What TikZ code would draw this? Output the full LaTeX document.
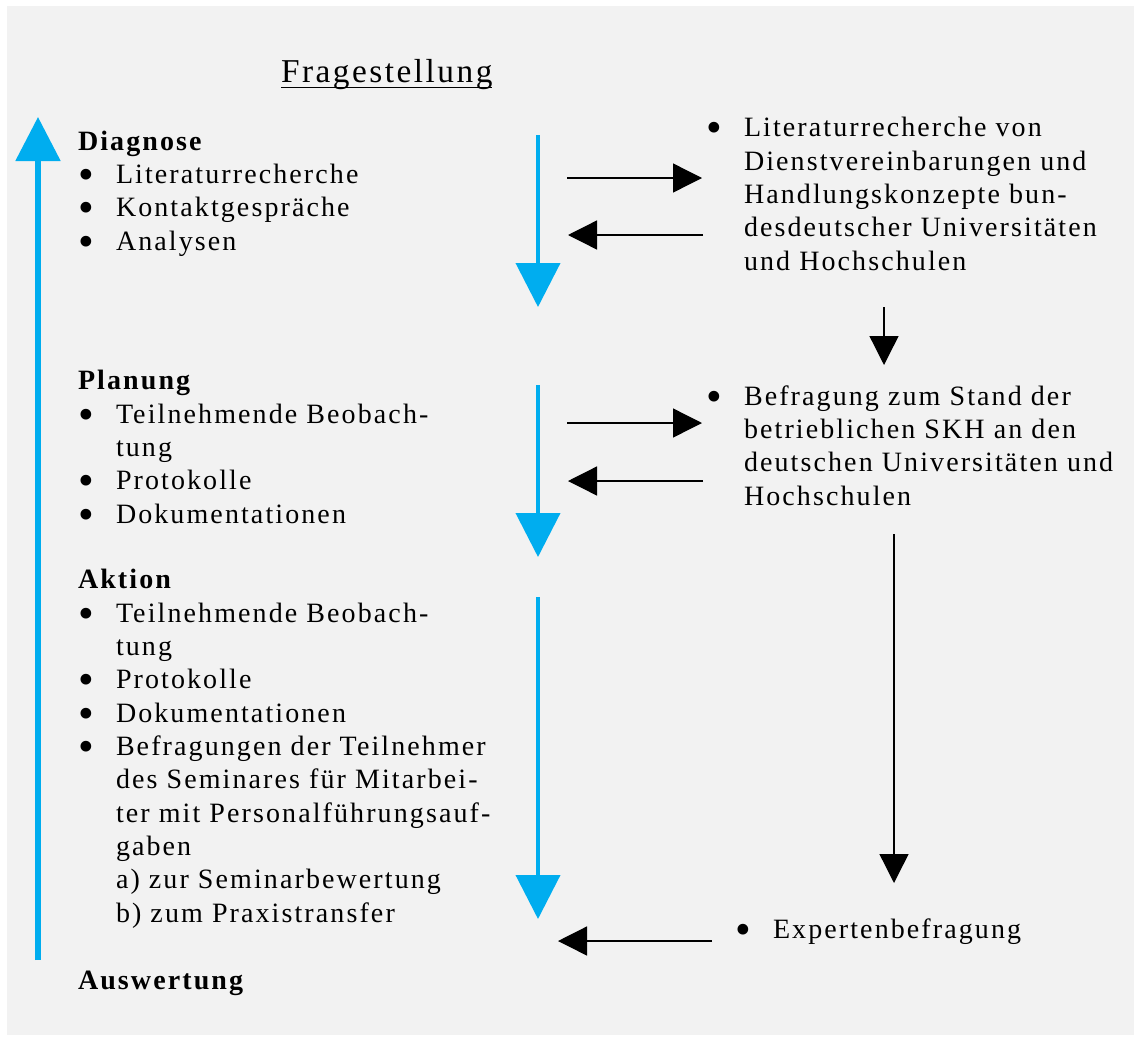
\documentclass[tikz,border=0pt]{standalone}
\usepackage{fontspec}
\setmainfont[LetterSpace=7.5]{Liberation Serif}
\usetikzlibrary{arrows.meta}

\newcommand{\bulletbox}{\makebox[28.5pt][l]{\raisebox{-4.5pt}{\scalebox{1.6}{\textbullet}}}}
\newcommand{\hangbox}{\hspace*{28.5pt}}

\tikzset{
  listtext/.style={anchor=base west, inner sep=0pt, outer sep=0pt, align=left,
    font=\fontsize{21}{25}\selectfont},
  cyanarrow/.style={draw=arrowCyan, line width=3pt, -{Triangle[length=33pt,width=33pt]}},
  blackarrow/.style={draw=black, line width=1pt, -{Triangle[length=21.75pt,width=21.75pt]}}
}

\begin{document}
\begin{tikzpicture}[x=0.75pt,y=-0.75pt]
\definecolor{panelColor}{RGB}{242,242,242}
\definecolor{arrowCyan}{RGB}{0,173,239}
\path[use as bounding box,fill=white] (0,0) rectangle (1134,1039);
\path[fill=panelColor] (7,6) rectangle (1134,1035);

% title
\node[anchor=base west,inner sep=0pt,outer sep=0pt,font=\fontsize{25}{29}\selectfont] (title) at (281,82) {Fragestellung};
\draw[line width=1pt] ([yshift=-4pt]title.base west) -- ([yshift=-4pt]title.base east);

% left column (placed at the baseline of the last line)
\node[listtext] (diagnose) at (78,250) {\textbf{Diagnose}\\
\bulletbox Literaturrecherche\\
\bulletbox Kontaktgespräche\\
\bulletbox Analysen};

\node[listtext] (planung) at (78,523) {\textbf{Planung}\\
\bulletbox Teilnehmende Beobach-\\
\hangbox tung\\
\bulletbox Protokolle\\
\bulletbox Dokumentationen};

\node[listtext] (aktion) at (78,922) {\textbf{Aktion}\\
\bulletbox Teilnehmende Beobach-\\
\hangbox tung\\
\bulletbox Protokolle\\
\bulletbox Dokumentationen\\
\bulletbox Befragungen der Teilnehmer\\
\hangbox des Seminares für Mitarbei-\\
\hangbox ter mit Personalführungsauf-\\
\hangbox gaben\\
\hangbox a) zur Seminarbewertung\\
\hangbox b) zum Praxistransfer};

\node[listtext] (auswertung) at (78,989) {\textbf{Auswertung}};

% right column
\node[listtext] (literatur) at (706,270) {\bulletbox Literaturrecherche von\\
\hangbox Dienstvereinbarungen und\\
\hangbox Handlungskonzepte bun-\\
\hangbox desdeutscher Universitäten\\
\hangbox und Hochschulen};

\node[listtext] (befragung) at (706,505) {\bulletbox Befragung zum Stand der\\
\hangbox betrieblichen SKH an den\\
\hangbox deutschen Universitäten und\\
\hangbox Hochschulen};

\node[listtext] (experten) at (735,938) {\bulletbox Expertenbefragung};

% arrow ends
\coordinate (cycleS) at (38,960);
\coordinate (cycleE) at (38,117);
\coordinate (diagS) at (538,135);
\coordinate (diagE) at (538,307);
\coordinate (planS) at (538,385);
\coordinate (planE) at (538,557);
\coordinate (aktS) at (538,597);
\coordinate (aktE) at (538,919);
\coordinate (diagOut) at (567,178);
\coordinate (diagIn) at (568,235);
\coordinate (litIn) at (702,178);
\coordinate (litOut) at (703,235);
\coordinate (litDownS) at (884,307);
\coordinate (litDownE) at (884,365);
\coordinate (planOut) at (567,423);
\coordinate (planIn) at (568,481);
\coordinate (befIn) at (702,423);
\coordinate (befOut) at (703,481);
\coordinate (befDownS) at (894,534);
\coordinate (befDownE) at (894,883);
\coordinate (expOut) at (712,941);
\coordinate (aktIn) at (558,941);

% cyan arrows
\draw[cyanarrow,line width=4pt] (cycleS) -- (cycleE);
\draw[cyanarrow] (diagS) -- (diagE);
\draw[cyanarrow] (planS) -- (planE);
\draw[cyanarrow] (aktS) -- (aktE);

% black arrows
\draw[blackarrow] (diagOut) -- (litIn);
\draw[blackarrow] (litOut) -- (diagIn);
\draw[blackarrow] (litDownS) -- (litDownE);
\draw[blackarrow] (planOut) -- (befIn);
\draw[blackarrow] (befOut) -- (planIn);
\draw[blackarrow] (befDownS) -- (befDownE);
\draw[blackarrow] (expOut) -- (aktIn);
\end{tikzpicture}
\end{document}
